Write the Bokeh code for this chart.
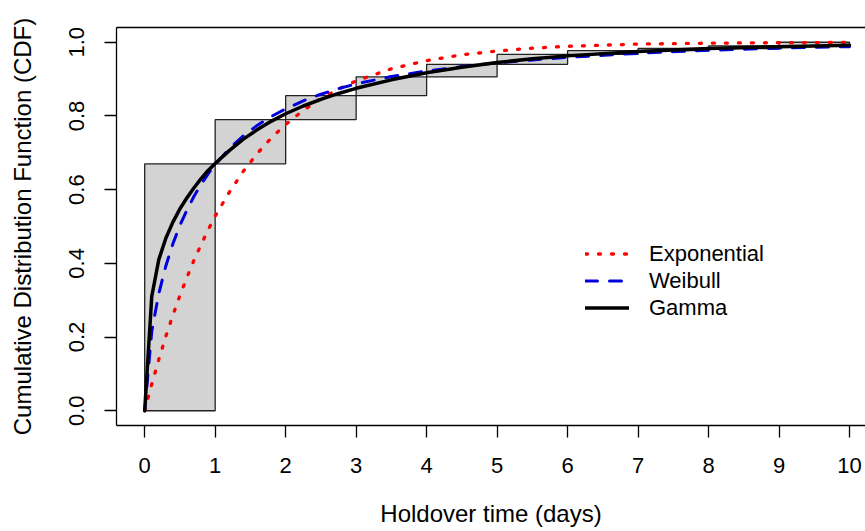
from bokeh.plotting import figure
from bokeh.models import Range1d, FixedTicker, LinearAxis, Legend, LegendItem, NumeralTickFormatter
from bokeh.embed import file_html
from bokeh.resources import INLINE

# ---- data ----
days = [0, 0.1, 0.2, 0.3, 0.4, 0.5, 0.6, 0.7, 0.8, 0.9, 1.0, 1.2, 1.4, 1.6, 1.8,
        2.0, 2.25, 2.5, 2.75, 3.0, 3.5, 4.0, 4.5, 5.0, 5.5, 6.0, 7.0, 8.0, 9.0, 10.0]
exponential_cdf = [0, 0.072, 0.139, 0.202, 0.259, 0.313, 0.362, 0.409, 0.451, 0.491, 0.528,
                   0.593, 0.650, 0.699, 0.741, 0.777, 0.815, 0.847, 0.873, 0.895, 0.928,
                   0.950, 0.966, 0.976, 0.984, 0.989, 0.995, 0.9975, 0.9988, 0.9994]
weibull_cdf = [0, 0.215, 0.318, 0.393, 0.453, 0.503, 0.545, 0.582, 0.614, 0.643, 0.668,
               0.711, 0.746, 0.775, 0.799, 0.819, 0.841, 0.859, 0.874, 0.887, 0.907,
               0.922, 0.934, 0.944, 0.952, 0.959, 0.970, 0.978, 0.984, 0.988]
gamma_cdf = [0, 0.31, 0.41, 0.468, 0.512, 0.548, 0.578, 0.605, 0.63, 0.652, 0.671,
             0.706, 0.737, 0.763, 0.786, 0.806, 0.827, 0.845, 0.861, 0.875, 0.898,
             0.917, 0.932, 0.945, 0.955, 0.963, 0.975, 0.983, 0.988, 0.992]

bin_edges = [0, 1, 2, 3, 4, 5, 6, 7, 8, 9, 10]
empirical_cdf = [0.67, 0.79, 0.855, 0.906, 0.94, 0.967, 0.977, 0.983, 0.99, 1.0]

x_ticks = [0, 1, 2, 3, 4, 5, 6, 7, 8, 9, 10]
y_ticks = [0.0, 0.2, 0.4, 0.6, 0.8, 1.0]
y_tick_labels = ["0.0", "0.2", "0.4", "0.6", "0.8", "1.0"]

series_names = ["Exponential", "Weibull", "Gamma"]

FONT = "Liberation Sans"

p = figure(width=865, height=531, output_backend="svg", toolbar_location=None,
           x_range=Range1d(-0.4, 10.227), y_range=Range1d(-0.04, 1.04),
           min_border_left=116, min_border_right=0, min_border_top=27, min_border_bottom=106,
           background_fill_color="white", border_fill_color="white")
p.xgrid.visible = False
p.ygrid.visible = False
p.outline_line_color = None

bottoms = [0] + empirical_cdf[:-1]
p.quad(left=bin_edges[:-1], right=bin_edges[1:], bottom=bottoms, top=empirical_cdf,
       fill_color="#D3D3D3", line_color="#222222", line_width=1.3)

r_exp = p.line(days, exponential_cdf, line_color="#FF0000", line_width=3.3,
               line_dash="2 11", line_cap="round")
r_wei = p.line(days, weibull_cdf, line_color="#0000DD", line_width=3,
               line_dash="12 12", line_cap="round")
r_gam = p.line(days, gamma_cdf, line_color="black", line_width=3.5,
               line_cap="round", line_join="round")

legend = Legend(items=[LegendItem(label=series_names[0], renderers=[r_exp]),
                       LegendItem(label=series_names[1], renderers=[r_wei]),
                       LegendItem(label=series_names[2], renderers=[r_gam])],
                location=(469, 104), padding=0, margin=0, spacing=0,
                glyph_width=44, glyph_height=27, label_height=27, label_standoff=20,
                border_line_color=None, background_fill_alpha=0,
                label_text_font=FONT, label_text_font_size="22px", label_text_color="black")
p.add_layout(legend)

for ax in (p.xaxis[0], p.yaxis[0]):
    ax.major_label_text_font = FONT
    ax.major_label_text_font_size = "22px"
    ax.major_label_text_color = "black"
    ax.axis_label_text_font = FONT
    ax.axis_label_text_font_size = "24px"
    ax.axis_label_text_font_style = "normal"
    ax.axis_label_text_color = "black"
    ax.major_tick_out = 12
    ax.major_tick_in = 0
    ax.minor_tick_out = 0
    ax.minor_tick_in = 0
    ax.axis_line_color = "black"
    ax.axis_line_width = 1.3
    ax.major_tick_line_color = "black"
    ax.major_tick_line_width = 1.3

p.xaxis.ticker = FixedTicker(ticks=x_ticks)
p.xaxis.major_label_standoff = 20
p.xaxis.axis_label = "Holdover time (days)"
p.xaxis.axis_label_standoff = 24

p.yaxis.ticker = FixedTicker(ticks=y_ticks)
p.yaxis.formatter = NumeralTickFormatter(format="0.0")
p.yaxis.major_label_overrides = {t: lab for t, lab in zip(y_ticks, y_tick_labels)}
p.yaxis.major_label_orientation = "vertical"
p.yaxis.major_label_standoff = 20
p.yaxis.axis_label = "Cumulative Distribution Function (CDF)"
p.yaxis.axis_label_standoff = 31

top_axis = LinearAxis(ticker=FixedTicker(ticks=[]), major_tick_out=0, major_tick_in=0,
                      minor_tick_out=0, minor_tick_in=0, major_label_text_font_size="0px",
                      axis_line_color="black", axis_line_width=1.3)
p.add_layout(top_axis, "above")

open("out.html", "w").write(file_html(p, INLINE))
